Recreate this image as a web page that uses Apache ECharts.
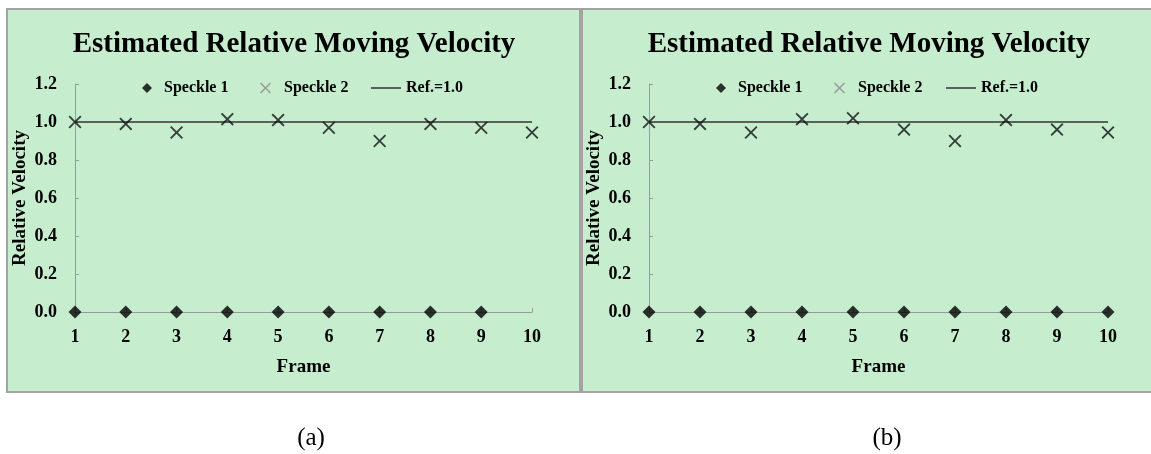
<!DOCTYPE html>
<html>
<head>
<meta charset="utf-8">
<script src="https://cdn.jsdelivr.net/npm/echarts@6/dist/echarts.min.js"></script>
<style>
html,body{margin:0;padding:0;background:#fff;}
#chart{width:1151px;height:454px;}
</style>
</head>
<body>
<div id="chart"></div>
<script>
// ---- data ----
var frames = [1, 2, 3, 4, 5, 6, 7, 8, 9, 10];
var speckle1A = [0, 0, 0, 0, 0, 0, 0, 0, 0];          // frames 1..9
var speckle2A = [1.00, 0.99, 0.945, 1.015, 1.01, 0.97, 0.90, 0.99, 0.97, 0.945];
var speckle1B = [0, 0, 0, 0, 0, 0, 0, 0, 0, 0];
var speckle2B = [1.00, 0.99, 0.945, 1.015, 1.02, 0.96, 0.90, 1.01, 0.96, 0.945];
var refValue = 1.0;
var yTicks = [0, 0.2, 0.4, 0.6, 0.8, 1.0, 1.2];
var titleText = 'Estimated Relative Moving Velocity';
var panelLabels = ['(a)', '(b)'];
var names = ['Speckle 1', 'Speckle 2', 'Ref.=1.0'];

var FONT = "'Liberation Serif','Times New Roman',serif";
var crossPath = 'path://M0,1 L1,0 L5,4 L9,0 L10,1 L6,5 L10,9 L9,10 L5,6 L1,10 L0,9 L4,5 Z';

function pairs(xs, ys) { return ys.map(function (y, i) { return [xs[i], y]; }); }

var grids = [
  { left: 75, top: 84, width: 457, height: 228 },
  { left: 649, top: 84, width: 459, height: 228 }
];
var titleX = [294, 869];
var labelX = [311, 887];
var legendPos = [
  { d: 142, c: 260, l: 371 },
  { d: 716, c: 834, l: 946 }
];

function xAxis(i) {
  return {
    type: 'value', gridIndex: i, min: frames[0], max: frames[frames.length - 1], interval: 1,
    name: 'Frame', nameLocation: 'middle', nameGap: 55,
    nameTextStyle: { fontFamily: FONT, fontWeight: 'bold', fontSize: 19, color: '#000', verticalAlign: 'middle' },
    axisLine: { show: true, onZero: false, lineStyle: { color: '#999', width: 1 } },
    axisTick: { show: true, inside: true, length: 4, lineStyle: { color: '#999' } },
    axisLabel: { fontFamily: FONT, fontWeight: 'bold', fontSize: 18, color: '#000', margin: 16 },
    splitLine: { show: false }
  };
}
function yAxis(i) {
  return {
    type: 'value', gridIndex: i, min: yTicks[0], max: yTicks[yTicks.length - 1], interval: 0.2,
    name: 'Relative Velocity', nameLocation: 'middle', nameGap: 45,
    nameTextStyle: { fontFamily: FONT, fontWeight: 'bold', fontSize: 19, color: '#000' },
    axisLine: { show: true, lineStyle: { color: '#999', width: 1 } },
    axisTick: { show: true, inside: true, length: 4, lineStyle: { color: '#999' } },
    axisLabel: { fontFamily: FONT, fontWeight: 'bold', fontSize: 18, color: '#000', margin: 18,
      formatter: function (v) { return v.toFixed(1); } },
    splitLine: { show: false }
  };
}
function seriesFor(i, s1, s2) {
  return [
    { name: names[0], type: 'scatter', xAxisIndex: i, yAxisIndex: i, symbol: 'diamond', symbolSize: [13, 13],
      itemStyle: { color: '#000' }, data: pairs(frames, s1), z: 3 },
    { name: names[1], type: 'scatter', xAxisIndex: i, yAxisIndex: i, symbol: crossPath, symbolSize: 13,
      itemStyle: { color: '#111' }, data: pairs(frames, s2), z: 3 },
    { name: names[2], type: 'line', xAxisIndex: i, yAxisIndex: i, symbol: 'none', showSymbol: false,
      lineStyle: { color: '#333', width: 1.5 }, itemStyle: { color: '#333' },
      data: [[frames[0], refValue], [frames[frames.length - 1], refValue]], z: 2 }
  ];
}
function legendsFor(i) {
  var p = legendPos[i];
  var ts = { fontFamily: FONT, fontWeight: 'bold', fontSize: 16, color: '#000' };
  return [
    { left: p.d, top: 80, padding: 0, itemWidth: 10, itemHeight: 10, selectedMode: false,
      data: [{ name: names[0], icon: 'diamond' }],
      textStyle: Object.assign({ padding: [0, 0, 0, 7] }, ts) },
    { left: p.c, top: 80, padding: 0, itemWidth: 11, itemHeight: 11, selectedMode: false,
      data: [{ name: names[1], icon: crossPath, itemStyle: { color: '#888' } }],
      textStyle: Object.assign({ padding: [0, 0, 0, 8] }, ts) },
    { left: p.l, top: 80, padding: 0, itemWidth: 30, itemHeight: 1.5, selectedMode: false,
      data: [{ name: names[2], icon: 'rect', itemStyle: { color: '#333' } }], textStyle: ts }
  ];
}

var chart = echarts.init(document.getElementById('chart'), null, { renderer: 'canvas' });
chart.setOption({
  animation: false,
  backgroundColor: '#ffffff',
  graphic: [
    { type: 'rect', shape: { x: 7, y: 9, width: 573, height: 383 }, z: -10,
      style: { fill: '#c7edcf', stroke: '#a3a3a3', lineWidth: 2 } },
    { type: 'rect', shape: { x: 582, y: 9, width: 575, height: 383 }, z: -10,
      style: { fill: '#c7edcf', stroke: '#a3a3a3', lineWidth: 2 } },
    { type: 'text', x: labelX[0], y: 438, style: { text: panelLabels[0], font: '25px ' + FONT, fill: '#000', textAlign: 'center', textVerticalAlign: 'middle' } },
    { type: 'text', x: labelX[1], y: 438, style: { text: panelLabels[1], font: '25px ' + FONT, fill: '#000', textAlign: 'center', textVerticalAlign: 'middle' } }
  ],
  title: [0, 1].map(function (i) {
    return { text: titleText, left: titleX[i], top: 45, padding: 0, textAlign: 'center', textVerticalAlign: 'middle',
      textStyle: { fontFamily: FONT, fontWeight: 'bold', fontSize: 29, color: '#000' } };
  }),
  legend: legendsFor(0).concat(legendsFor(1)),
  grid: grids,
  xAxis: [xAxis(0), xAxis(1)],
  yAxis: [yAxis(0), yAxis(1)],
  series: seriesFor(0, speckle1A, speckle2A).concat(seriesFor(1, speckle1B, speckle2B))
});
</script>
</body>
</html>
